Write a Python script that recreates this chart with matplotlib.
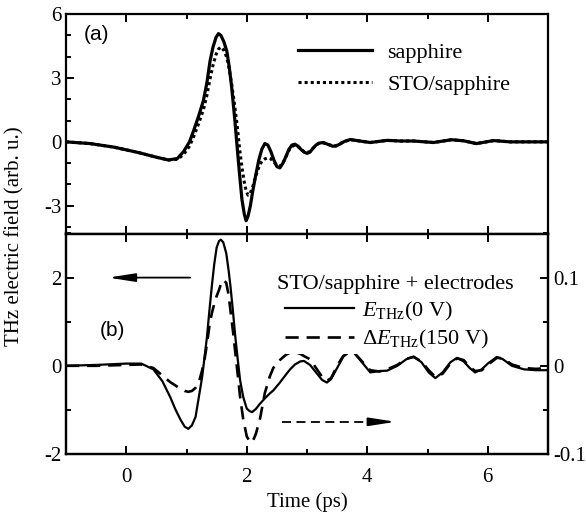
import matplotlib
matplotlib.use("Agg")
import matplotlib.pyplot as plt
from matplotlib.ticker import MultipleLocator, FixedLocator
from matplotlib.lines import Line2D

plt.rcParams['font.family'] = ['Liberation Serif', 'DejaVu Serif']
plt.rcParams['mathtext.fontset'] = 'custom'
plt.rcParams['mathtext.rm'] = 'Liberation Serif'
plt.rcParams['mathtext.it'] = 'Liberation Serif:italic'
plt.rcParams['axes.unicode_minus'] = False

# ---------------- Panel (a) data ----------------
time_a = [-1.0, -0.6, -0.2, 0.2, 0.5, 0.7, 0.85, 0.95, 1.05, 1.12, 1.2, 1.28, 1.34, 1.39,
          1.44, 1.49, 1.53, 1.57, 1.62, 1.67, 1.71, 1.75, 1.8, 1.84, 1.88, 1.92, 1.96, 1.99,
          2.02, 2.06, 2.1, 2.15, 2.2, 2.25, 2.3, 2.35, 2.4, 2.45, 2.5, 2.55, 2.6, 2.65, 2.7,
          2.75, 2.8, 2.85, 2.9, 2.95, 3.0, 3.05, 3.1, 3.15, 3.2, 3.27, 3.35, 3.42, 3.48, 3.55,
          3.62, 3.72, 3.85, 4.05, 4.33, 4.55, 4.77, 5.1, 5.4, 5.6, 5.81, 6.1, 6.37, 6.7, 7.0]
sapphire = [0.0, -0.08, -0.25, -0.5, -0.72, -0.85, -0.78, -0.46, 0.0, 0.54, 1.2, 1.93, 2.8, 3.78,
            4.45, 4.9, 5.08, 5.0, 4.7, 4.25, 3.5, 2.55, 1.1, -0.23, -1.5, -2.7, -3.4, -3.7,
            -3.5, -3.0, -2.3, -1.55, -0.85, -0.35, -0.08, -0.15, -0.45, -0.85, -1.16, -1.22, -1.0, -0.69, -0.35,
            -0.15, -0.11, -0.2, -0.35, -0.48, -0.54, -0.48, -0.3, -0.15, -0.06, -0.03, -0.12, -0.2, -0.2, -0.1,
            0.02, 0.11, 0.05, -0.03, 0.07, 0.04, 0.04, -0.03, 0.1, 0.05, -0.08, 0.06, 0.0, 0.0, 0.0]
sto_sapphire = [0.0, -0.08, -0.25, -0.5, -0.72, -0.85, -0.82, -0.6, -0.2, 0.25, 0.85, 1.5, 2.2, 2.95,
                3.6, 4.1, 4.35, 4.45, 4.3, 3.95, 3.4, 2.7, 1.7, 0.8, -0.3, -1.2, -1.9, -2.3,
                -2.5, -2.4, -2.1, -1.6, -1.2, -0.9, -0.8, -0.75, -0.8, -0.95, -1.1, -1.15, -1.0, -0.7, -0.4,
                -0.22, -0.15, -0.22, -0.35, -0.45, -0.5, -0.45, -0.3, -0.15, -0.07, -0.05, -0.12, -0.18, -0.18, -0.08,
                0.02, 0.1, 0.05, -0.03, 0.07, 0.04, 0.04, -0.03, 0.1, 0.05, -0.08, 0.06, 0.0, 0.0, 0.0]

# ---------------- Panel (b) data ----------------
time_b = [-1.0, -0.5, 0.0, 0.25, 0.45, 0.6, 0.73, 0.82, 0.9, 0.97, 1.03, 1.09, 1.15, 1.2, 1.26,
          1.3, 1.34, 1.38, 1.42, 1.46, 1.5, 1.54, 1.57, 1.61, 1.66, 1.7, 1.73, 1.77, 1.81, 1.85,
          1.89, 1.94, 2.0, 2.05, 2.09, 2.15, 2.22, 2.3, 2.38, 2.44, 2.55, 2.65, 2.72, 2.8, 2.89,
          2.95, 3.05, 3.15, 3.25, 3.33, 3.4, 3.5, 3.6, 3.69, 3.78, 3.9, 4.05, 4.2, 4.33, 4.5,
          4.65, 4.77, 4.9, 5.02, 5.13, 5.25, 5.38, 5.49, 5.6, 5.7, 5.79, 5.9, 6.0, 6.15, 6.25,
          6.4, 6.6, 6.8, 7.0]
e_thz_0v = [0.0, 0.02, 0.05, 0.05, -0.08, -0.35, -0.71, -1.0, -1.22, -1.38, -1.43, -1.35, -1.16, -0.75, -0.25,
            0.2, 0.66, 1.25, 1.8, 2.3, 2.68, 2.83, 2.86, 2.8, 2.55, 2.15, 1.8, 1.25, 0.66, 0.15,
            -0.33, -0.7, -0.97, -1.03, -1.05, -0.98, -0.86, -0.74, -0.63, -0.56, -0.38, -0.2, -0.08, 0.03, 0.1,
            0.11, 0.02, -0.15, -0.32, -0.38, -0.3, -0.05, 0.2, 0.32, 0.3, 0.1, -0.15, -0.12, -0.11, 0.0,
            0.15, 0.21, 0.08, -0.15, -0.28, -0.15, 0.08, 0.18, 0.1, -0.05, -0.15, -0.08, 0.05, 0.2, 0.15,
            0.0, -0.08, -0.1, -0.1]
delta_e_150v = [0.0, 0.0, 0.001, 0.0015, -0.0025, -0.011, -0.0185, -0.0225, -0.026, -0.0285, -0.0295, -0.0285, -0.025, -0.02, -0.005,
                0.0075, 0.025, 0.045, 0.0595, 0.07, 0.079, 0.086, 0.0925, 0.0975, 0.094, 0.08, 0.0625, 0.04, 0.015, -0.01,
                -0.0355, -0.06, -0.08, -0.086, -0.087, -0.0775, -0.06, -0.031, -0.0125, -0.0025, 0.0065, 0.0125, 0.015, 0.0155, 0.0135,
                0.011, 0.0075, -0.0025, -0.0125, -0.017, -0.014, 0.0, 0.011, 0.015, 0.015, 0.006, -0.005, -0.0065, -0.004, 0.001,
                0.008, 0.01, 0.005, -0.005, -0.0125, -0.009, 0.0025, 0.0085, 0.0065, -0.001, -0.006, -0.005, 0.001, 0.009, 0.0085,
                0.0015, -0.0025, -0.0035, -0.0025]

xticks = [0, 2, 4, 6]

W, H = 586, 521
fig = plt.figure(figsize=(W / 100, H / 100), dpi=100)

L, R = 66, 548
top_a, mid, bot_b = 14, 233.5, 454
ax_a = fig.add_axes([L / W, 1 - mid / H, (R - L) / W, (mid - top_a) / H])
ax_b = fig.add_axes([L / W, 1 - bot_b / H, (R - L) / W, (bot_b - mid) / H])

FS = 15

for ax in (ax_a, ax_b):
    for s in ax.spines.values():
        s.set_linewidth(1.6)
    ax.set_xlim(-1, 7)
    ax.xaxis.set_major_locator(FixedLocator(xticks))
    ax.xaxis.set_minor_locator(MultipleLocator(1))
    ax.tick_params(which='both', direction='in', top=True, width=1.4, labelsize=FS)
    ax.tick_params(which='major', length=6)
    ax.tick_params(which='minor', length=3.5)
    ax.tick_params(axis='x', pad=10)

# Panel (a)
ax_a.plot(time_a, sapphire, color='black', lw=2.3, label='sapphire')
ax_a.plot(time_a, sto_sapphire, color='black', lw=2.2, ls=(0, (1, 1.0)), label='STO/sapphire')
ax_a.set_ylim(-4.3, 6)
ax_a.yaxis.set_major_locator(FixedLocator([-3, 0, 3, 6]))
ax_a.yaxis.set_minor_locator(MultipleLocator(1))
ax_a.tick_params(labelbottom=False)
ax_a.text(0.037, 0.905, '(a)', transform=ax_a.transAxes, fontsize=FS,
          family='Liberation Sans', ha='left', va='center')
ax_a.legend(loc='upper left', bbox_to_anchor=(0.482, 0.87), frameon=False, fontsize=FS + 1,
            handlelength=3.3, handletextpad=0.7, labelspacing=0.5, borderaxespad=0, borderpad=0)

# Panel (b)
ax_b.plot(time_b, e_thz_0v, color='black', lw=1.6, zorder=2)
ax_b.set_ylim(-2, 3)
ax_b.yaxis.set_major_locator(FixedLocator([-2, 0, 2]))
ax_b.yaxis.set_minor_locator(MultipleLocator(1))
ax_b.tick_params(axis='y', right=False)
ax_b.set_xlabel('Time (ps)', fontsize=FS, labelpad=4)

ax_r = ax_b.twinx()
ax_r.set_ylim(-0.1, 0.15)
ax_r.plot(time_b, delta_e_150v, color='black', lw=1.9, ls=(0, (5, 3)), zorder=2)
ax_r.yaxis.set_major_locator(FixedLocator([-0.1, 0, 0.1]))
ax_r.yaxis.set_minor_locator(MultipleLocator(0.05))
ax_r.tick_params(which='both', direction='in', width=1.4, labelsize=FS)
ax_r.tick_params(which='major', length=6)
ax_r.tick_params(which='minor', length=3.5)
ax_r.set_yticklabels(['-0.1', '0', '0.1'])
for s in ax_r.spines.values():
    s.set_linewidth(1.6)

h1 = Line2D([], [], color='black', lw=1.6)
h2 = Line2D([], [], color='black', lw=1.9, ls=(0, (5, 3)))
leg = ax_r.legend([h1, h2], [r'$E_{\mathrm{THz}}$(0 V)', r'$\Delta E_{\mathrm{THz}}$(150 V)'],
                  loc='upper left', bbox_to_anchor=(0.45, 0.71), frameon=True, fontsize=FS + 1,
                  handlelength=3.1, handletextpad=0.35, labelspacing=0.25, borderaxespad=0,
                  borderpad=0.1)
leg.get_frame().set_facecolor('white')
leg.get_frame().set_edgecolor('none')
leg.get_frame().set_alpha(1)
ax_r.text(0.438, 0.77, 'STO/sapphire + electrodes', transform=ax_r.transAxes,
          fontsize=FS + 1, ha='left', va='center')
ax_r.text(0.07, 0.562, '(b)', transform=ax_b.transAxes, fontsize=FS,
          family='Liberation Sans', ha='left', va='center')

# arrows
head = '-|>,head_length=1.6,head_width=0.25'
ax_b.annotate('', xy=(-0.3, 2.0), xytext=(1.06, 2.0),
              arrowprops=dict(arrowstyle=head, color='black', lw=1.3, shrinkA=0, shrinkB=0))
ax_b.plot([2.58, 4.15], [-1.27, -1.27], color='black', lw=1.3, ls=(0, (5, 3)))
ax_b.annotate('', xy=(4.47, -1.27), xytext=(4.1, -1.27),
              arrowprops=dict(arrowstyle=head, color='black', lw=1.3, shrinkA=0, shrinkB=0))

fig.text(15 / W, 1 - 236 / H, 'THz electric field (arb. u.)', rotation=90, fontsize=FS,
         ha='center', va='center')

fig.savefig('out.png', dpi=100)
